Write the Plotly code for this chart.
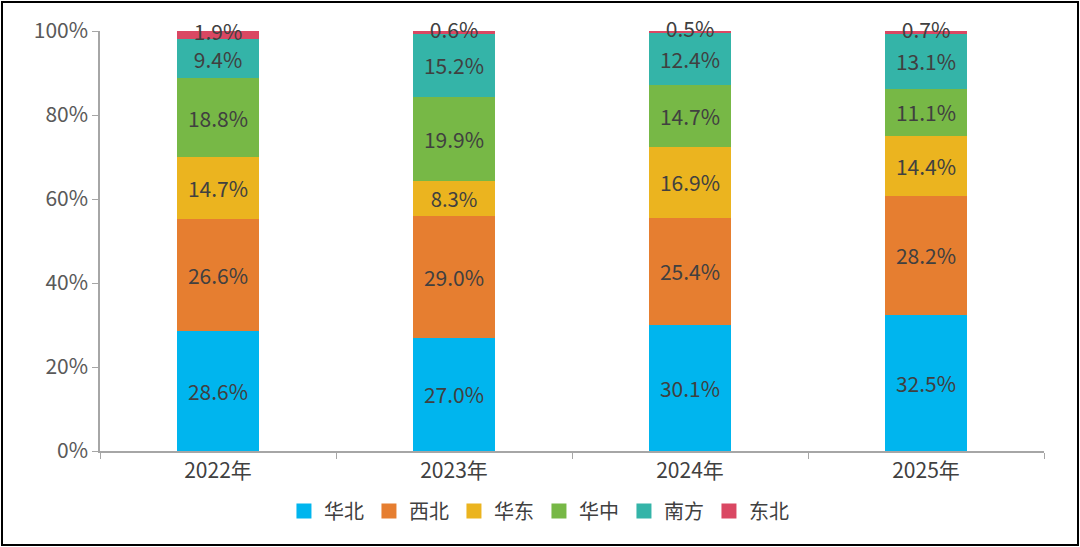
import plotly.graph_objects as go

# 数据（百分比）
years = ["2022年", "2023年", "2024年", "2025年"]
huabei = [28.6, 27.0, 30.1, 32.5]
xibei = [26.6, 29.0, 25.4, 28.2]
huadong = [14.7, 8.3, 16.9, 14.4]
huazhong = [18.8, 19.9, 14.7, 11.1]
nanfang = [9.4, 15.2, 12.4, 13.1]
dongbei = [1.9, 0.6, 0.5, 0.7]

series = [
    ("华北", huabei, "#00B5EE"),
    ("西北", xibei, "#E67E30"),
    ("华东", huadong, "#EBB41F"),
    ("华中", huazhong, "#77B846"),
    ("南方", nanfang, "#34B4A8"),
    ("东北", dongbei, "#DA4863"),
]

FONT = "Noto Sans CJK SC"
LABEL = dict(family=FONT, size=21, color="#404040")

fig = go.Figure()
base = [0.0] * len(years)
for name, vals, col in series:
    small = name == "东北"
    fig.add_trace(go.Bar(
        x=years, y=vals, name=name,
        marker=dict(color=col, line=dict(width=0)),
        text=None if small else [f"{v:.1f}%" for v in vals],
        textposition="none" if small else "inside",
        insidetextanchor="middle",
        textfont=LABEL,
        showlegend=False,
    ))
    if small:
        # 小数值标签放在段中心，允许溢出
        fig.add_trace(go.Scatter(
            x=years, y=[b + v / 2 for b, v in zip(base, vals)],
            mode="text", text=[f"{v:.1f}%" for v in vals],
            textfont=LABEL, showlegend=False, hoverinfo="skip",
            cliponaxis=False,
        ))
    base = [b + v for b, v in zip(base, vals)]

# 图例（方块）
for name, vals, col in series:
    fig.add_trace(go.Scatter(
        x=[None], y=[None], mode="markers", name=name,
        marker=dict(symbol="square", size=15, color=col),
    ))

fig.update_layout(
    barmode="stack",
    bargap=0.65,
    autosize=False,
    width=1080, height=547,
    margin=dict(l=100, r=36, t=31, b=96),
    paper_bgcolor="white",
    plot_bgcolor="white",
    font=dict(family=FONT, size=20, color="#595959"),
    legend=dict(
        orientation="h",
        x=0.465, xanchor="center",
        yref="container", y=0.066, yanchor="middle",
        font=dict(family=FONT, size=20, color="#404040"),
        itemsizing="trace",
        itemwidth=30,
        traceorder="normal",
    ),
    xaxis=dict(
        showline=True, linecolor="#A6A6A6", linewidth=1.5,
        ticks="outside", tickson="boundaries", ticklen=6, tickcolor="#A6A6A6",
        tickfont=dict(family=FONT, size=21, color="#404040"),
        showgrid=False, zeroline=False, automargin=False,
    ),
    yaxis=dict(
        range=[0, 100],
        tickvals=[0, 20, 40, 60, 80, 100],
        ticktext=["0%", "20%", "40%", "60%", "80%", "100%"],
        showline=True, linecolor="#A6A6A6", linewidth=1.5,
        ticks="outside", ticklen=6, tickcolor="#A6A6A6",
        tickfont=dict(family=FONT, size=21, color="#595959"),
        showgrid=False, zeroline=False, automargin=False,
    ),
)

# 外框用固定定位的 div 画
post = """
document.body.style.margin='0';
var b=document.createElement('div');
b.style.cssText='position:fixed;left:1px;top:1px;width:1074px;height:541px;border:2px solid #000;pointer-events:none;';
document.body.appendChild(b);
"""

fig.write_html(
    "out.html",
    config={"displayModeBar": False, "responsive": False},
    post_script=post,
)
